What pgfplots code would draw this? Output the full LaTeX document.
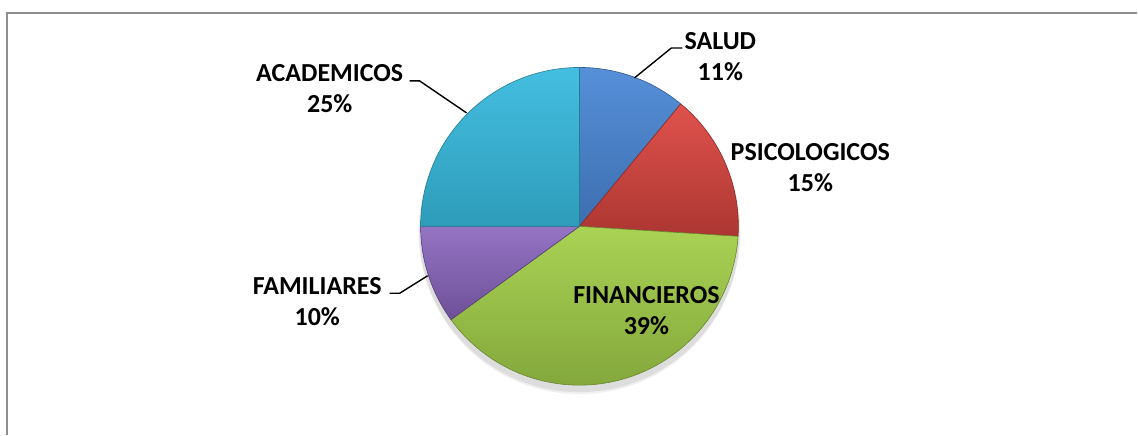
\documentclass[border=0pt]{standalone}
\usepackage{pgfplots}
\pgfplotsset{compat=1.18}
\usepackage{pgfplotstable}
\usepackage{fontspec}
\setmainfont{Carlito}

% office 2007 palette, light / dark ends of each slice
\definecolor{saludT}{HTML}{5690D8}
\definecolor{saludB}{HTML}{3C6EB0}
\definecolor{psicoT}{HTML}{E0524C}
\definecolor{psicoB}{HTML}{AC3632}
\definecolor{finanT}{HTML}{AAD254}
\definecolor{finanB}{HTML}{84A83C}
\definecolor{famiT}{HTML}{9474C4}
\definecolor{famiB}{HTML}{6E5098}
\definecolor{acadT}{HTML}{44BEE0}
\definecolor{acadB}{HTML}{2E9CBA}
\definecolor{frame}{HTML}{8E8E8E}

\pgfplotstableread{
name          value
SALUD         11
PSICOLOGICOS  15
FINANCIEROS   39
FAMILIARES    10
ACADEMICOS    25
}\piedata

% slice angles, clockwise from 12 o'clock
\newcommand\nextangle[3]{%
  \pgfplotstablegetelem{#1}{value}\of\piedata
  \pgfmathsetmacro#3{#2-3.6*\pgfplotsretval}}
\def\aO{90}
\nextangle{0}{\aO}{\aA}
\nextangle{1}{\aA}{\aB}
\nextangle{2}{\aB}{\aC}
\nextangle{3}{\aC}{\aD}
\nextangle{4}{\aD}{\aE}

\def\cx{580}
\def\cy{208.5}
\def\rr{159}

\tikzset{
  slice/.style={samples=90, line width=0.6pt, line join=round},
  lbl/.style={font=\fontsize{26}{31}\selectfont\bfseries, align=center, text=black},
  leader/.style={line width=1.4pt, black},
}

\begin{document}
\begin{tikzpicture}
\begin{axis}[
  width=1138pt, height=435pt, scale only axis,
  xmin=0, xmax=1138, ymin=0, ymax=435,
  hide axis, clip=false,
]
\path (axis cs:0,0) rectangle (axis cs:1138,435);
\draw[frame, line width=2pt] (axis cs:7.3,0) -- (axis cs:7.3,421.7) -- (axis cs:1138,421.7);

% soft shadow under the pie
\fill[black, opacity=0.08] (axis cs:\cx,\cy-5) circle[radius=161];
\fill[black, opacity=0.06] (axis cs:\cx,\cy-8) circle[radius=160];

\addplot[slice, draw=saludB!80!black, top color=saludT, bottom color=saludB, domain=\aA:\aO]
  ({\cx+\rr*cos(x)},{\cy+\rr*sin(x)}) -- (axis cs:\cx,\cy) -- cycle;
\addplot[slice, draw=psicoB!80!black, top color=psicoT, bottom color=psicoB, domain=\aB:\aA]
  ({\cx+\rr*cos(x)},{\cy+\rr*sin(x)}) -- (axis cs:\cx,\cy) -- cycle;
\addplot[slice, draw=finanB!80!black, top color=finanT, bottom color=finanB, domain=\aC:\aB]
  ({\cx+\rr*cos(x)},{\cy+\rr*sin(x)}) -- (axis cs:\cx,\cy) -- cycle;
\addplot[slice, draw=famiB!80!black, top color=famiT, bottom color=famiB, domain=\aD:\aC]
  ({\cx+\rr*cos(x)},{\cy+\rr*sin(x)}) -- (axis cs:\cx,\cy) -- cycle;
\addplot[slice, draw=acadB!80!black, top color=acadT, bottom color=acadB, domain=\aE:\aD]
  ({\cx+\rr*cos(x)},{\cy+\rr*sin(x)}) -- (axis cs:\cx,\cy) -- cycle;

% leader lines
\draw[leader] (axis cs:635,357) -- (axis cs:672,387) -- (axis cs:683,387);
\draw[leader] (axis cs:467,322) -- (axis cs:420,354) -- (axis cs:410,354);
\draw[leader] (axis cs:428,159) -- (axis cs:400,141.5) -- (axis cs:390,141.5);

% data labels
\node[lbl] at (axis cs:721,378.8) {SALUD\\11\%};
\node[lbl] at (axis cs:811,267.7) {PSICOLOGICOS\\15\%};
\node[lbl] at (axis cs:647,124) {FINANCIEROS\\39\%};
\node[lbl] at (axis cs:317.5,133.5) {FAMILIARES\\10\%};
\node[lbl] at (axis cs:330,346) {ACADEMICOS\\25\%};
\end{axis}
\end{tikzpicture}
\end{document}
